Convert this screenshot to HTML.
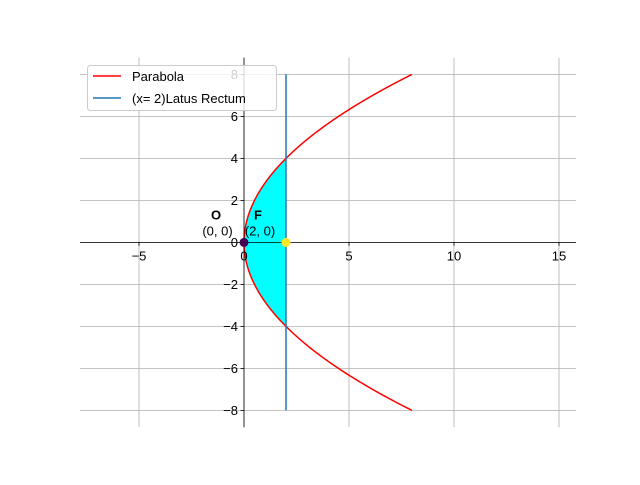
<!DOCTYPE html>
<html><head><meta charset="utf-8"><style>
body{margin:0;background:#fff}
svg text{font-family:"Liberation Sans","DejaVu Sans",sans-serif;font-size:13px}
</style></head><body>
<svg id="chart" width="640" height="480" xmlns="http://www.w3.org/2000/svg">
<g id="grid"></g>
<g id="marks"></g>
<g id="axes"></g>
</svg>
<script>
const xTicks=[-5,0,5,10,15];
const yTicks=[-8,-6,-4,-2,0,2,4,6,8];
const focalA=[2];
const yRange=[-8,8];
const points=[{label:"O",coord:"(0, 0)",x:0,y:0,color:"#440154"},{label:"F",coord:"(2, 0)",x:2,y:0,color:"#fde725"}];
const X0=80,X1=576,Y0=57.6,Y1=427.2;
const xmin=-7.81,xmax=15.81,ymin=-8.8,ymax=8.8;
const sx=v=>X0+(v-xmin)/(xmax-xmin)*(X1-X0);
const sy=v=>Y1-(v-ymin)/(ymax-ymin)*(Y1-Y0);
const NS="http://www.w3.org/2000/svg";
function mk(tag,attrs,parent){const e=document.createElementNS(NS,tag);for(const k in attrs)e.setAttribute(k,attrs[k]);parent.appendChild(e);return e;}
const grid=document.getElementById('grid'),marks=document.getElementById('marks'),axes=document.getElementById('axes');
xTicks.forEach(t=>{const l=mk('line',{x1:sx(t),x2:sx(t),y1:Y0,y2:Y1,stroke:'#b0b0b0','stroke-width':0.8},grid);
});
yTicks.forEach(t=>{const l=mk('line',{x1:X0,x2:X1,y1:sy(t),y2:sy(t),stroke:'#b0b0b0','stroke-width':0.8},grid);
});
const a=focalA[0];
let fd='';const N=80;
for(let i=0;i<=N;i++){const yy=-2*a+4*a*i/N;const x=yy*yy/(4*a);fd+=(i?'L':'M')+sx(x)+','+sy(yy);}
fd+='L'+sx(a)+','+sy(2*a)+'L'+sx(a)+','+sy(-2*a)+'Z';
const fill=mk('path',{d:fd,fill:'#00ffff'},marks);

let pd='';for(let i=0;i<=200;i++){const y=yRange[0]+(yRange[1]-yRange[0])*i/200;const x=y*y/(4*a);pd+=(i?'L':'M')+sx(x)+','+sy(y);}
const par=mk('path',{d:pd,fill:'none',stroke:'#ff0000','stroke-width':1.5},marks);

const lr=mk('line',{x1:sx(a),x2:sx(a),y1:sy(yRange[0]),y2:sy(yRange[1]),stroke:'#1f77b4','stroke-width':1.5},marks);

const sp1=mk('line',{x1:sx(0),x2:sx(0),y1:Y0,y2:Y1,stroke:'#000','stroke-width':0.8},axes);

const sp2=mk('line',{x1:X0,x2:X1,y1:sy(0),y2:sy(0),stroke:'#000','stroke-width':0.8},axes);

xTicks.forEach(t=>{const tk=mk('line',{x1:sx(t),x2:sx(t),y1:sy(0),y2:sy(0)+3.5,stroke:'#000','stroke-width':0.8},axes);

const tx=mk('text',{x:sx(t),y:sy(0)+18,'text-anchor':'middle'},axes);tx.textContent=t<0?'\u2212'+(-t):t;
});
yTicks.forEach(t=>{const tk=mk('line',{x1:sx(0)-3.5,x2:sx(0),y1:sy(t),y2:sy(t),stroke:'#000','stroke-width':0.8},axes);

const tx=mk('text',{x:sx(0)-6,y:sy(t)+4.5,'text-anchor':'end'},axes);tx.textContent=t<0?'\u2212'+(-t):t;
});
points.forEach(p=>{const c=mk('circle',{cx:sx(p.x),cy:sy(p.y),r:4.5,fill:p.color},axes);

const t1=mk('text',{x:sx(p.x)-28,y:sy(p.y)-23,'text-anchor':'middle','font-weight':'bold'},axes);t1.textContent=p.label;

const t2=mk('text',{x:sx(p.x)-(p.label==='O'?26.5:26),y:sy(p.y)-7,'text-anchor':'middle','font-size':'14px'},axes);t2.textContent=p.coord;
});
const lg=mk('g',{},axes);
mk('rect',{x:87.5,y:65.5,width:189,height:45,rx:3,fill:'#fff','fill-opacity':0.8,stroke:'#cccccc'},lg);
mk('line',{x1:93,x2:121,y1:76,y2:76,stroke:'#ff0000','stroke-width':1.5},lg);
let t=mk('text',{x:132,y:81},lg);t.textContent='Parabola';
mk('line',{x1:93,x2:121,y1:98,y2:98,stroke:'#1f77b4','stroke-width':1.5},lg);
t=mk('text',{x:132,y:103},lg);t.textContent='(x= 2)Latus Rectum';
</script>
</body></html>
